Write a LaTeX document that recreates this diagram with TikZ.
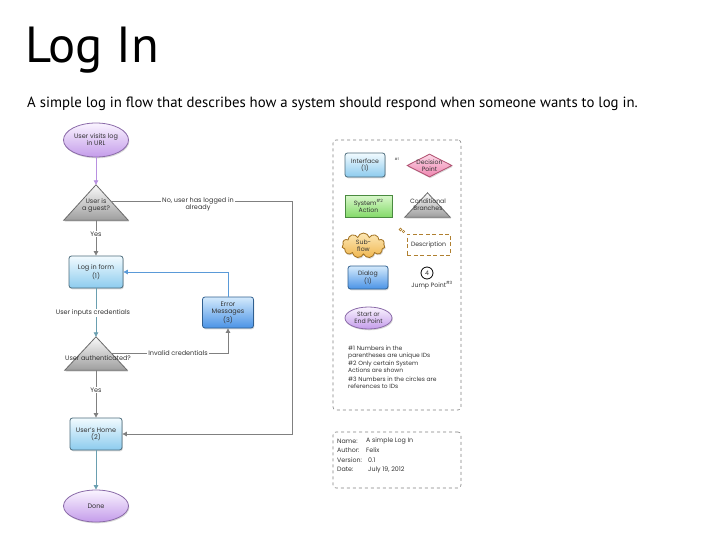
\documentclass[tikz,border=0pt]{standalone}
\usepackage{fontspec}
\setmainfont{Poppins}
\newfontfamily\titlefont{PT Sans}
\usetikzlibrary{shapes.geometric,shapes.symbols,arrows.meta,shadows,calc,backgrounds}
\definecolor{lnGray}{HTML}{808080}
\definecolor{lnBlue}{HTML}{5A9AD8}
\definecolor{lnTeal}{HTML}{6A9FB0}
\definecolor{lnPurple}{HTML}{B890E0}
\definecolor{purTop}{HTML}{FAF4FF}
\definecolor{purBot}{HTML}{C49CEA}
\definecolor{purBd}{HTML}{8A6AA8}
\definecolor{lbTop}{HTML}{F2FBFF}
\definecolor{lbBot}{HTML}{8CCBEE}
\definecolor{lbBd}{HTML}{4C6C7C}
\definecolor{dbTop}{HTML}{D4EAFC}
\definecolor{dbBot}{HTML}{4A93E6}
\definecolor{dbBd}{HTML}{2F5F90}
\definecolor{trTop}{HTML}{FAFAFA}
\definecolor{trBot}{HTML}{9E9E9E}
\definecolor{trBd}{HTML}{6A6A6A}
\definecolor{pkTop}{HTML}{FCD6E6}
\definecolor{pkBot}{HTML}{EE86B0}
\definecolor{pkBd}{HTML}{B05070}
\definecolor{grTop}{HTML}{DAF8CC}
\definecolor{grBot}{HTML}{84DA6A}
\definecolor{grBd}{HTML}{4A8A40}
\definecolor{orTop}{HTML}{FDE8B6}
\definecolor{orBot}{HTML}{EFB650}
\definecolor{orBd}{HTML}{A07020}
\definecolor{descBd}{HTML}{B08030}
\definecolor{txt}{HTML}{333333}
\tikzset{
  base/.style={font=\fontsize{6.5}{7}\selectfont, text=txt, align=center, inner sep=0pt},
  leg/.style={font=\fontsize{6.2}{6.8}\selectfont},
  shad/.style={drop shadow={shadow xshift=0.8pt,shadow yshift=-1.3pt,opacity=0.3}},
  ifbox/.style={base, shad, draw=lbBd, line width=0.8pt, rounded corners=2.5pt, top color=lbTop, bottom color=lbBot},
  dlgbox/.style={base, shad, draw=dbBd, line width=0.8pt, rounded corners=2.5pt, top color=dbTop, bottom color=dbBot},
  startend/.style={base, shad, ellipse, draw=purBd, line width=0.8pt, top color=purTop, bottom color=purBot},
  trishape/.style={shad, draw=trBd, line width=0.8pt, top color=trTop, bottom color=trBot},
  trinode/.style={inner sep=0pt},
  lbl/.style={base, fill=white, inner sep=1pt},
  note/.style={base, font=\fontsize{6}{7.2}\selectfont, align=left, anchor=north west},
  info/.style={base, font=\fontsize{6.3}{7}\selectfont, anchor=west},
  gline/.style={draw=lnGray, line width=0.8pt},
  arr/.style={-{Triangle[length=4.5pt,width=4.5pt]}},
  frame/.style={draw=lnGray, dashed, line width=0.6pt, rounded corners=3pt, inner sep=0pt}
}
\begin{document}
\begin{tikzpicture}[x=1pt,y=-1pt]
\useasboundingbox (0,0) rectangle (728,546);
% titles
\node[anchor=base west, inner sep=0pt, font=\titlefont\fontsize{50.7}{50}\selectfont] (title) at (25,62) {Log In};
\node[anchor=base west, inner sep=0pt, font=\titlefont\fontsize{14.8}{15}\selectfont] (subtitle) at (27,107) {A simple log in flow that describes how a system should respond when someone wants to log in.};

% flow nodes
\node[startend, minimum width=65pt, minimum height=34pt] (start) at (96,140) {User visits log\\in URL};
\node[trinode, minimum width=64pt, minimum height=35pt] (guest) at (96,202.5) {};
\node[ifbox, minimum width=54pt, minimum height=32pt] (login) at (96,272) {Log in form\\(1)};
\node[trinode, minimum width=62pt, minimum height=33pt] (auth) at (96,353.5) {};
\node[dlgbox, minimum width=51pt, minimum height=31pt] (err) at (228,312.5) {Error\\Messages\\(3)};
\node[ifbox, minimum width=52pt, minimum height=32pt] (home) at (96,434) {User's Home\\(2)};
\node[startend, minimum width=65pt, minimum height=32pt] (done) at (96,506) {Done};

\begin{scope}[on background layer]
  \path[trishape] (guest.north) -- (guest.south east) -- (guest.south west) -- cycle;
  \path[trishape] (auth.north) -- (auth.south east) -- (auth.south west) -- cycle;
\end{scope}
\node[base] (guesttxt) at (96,205) {User is\\a guest?};
\node[base] (authtxt) at (98,358) {User authenticated?};

\coordinate (gR) at ($(guest.north)!0.457!(guest.south east)$);
\coordinate (aR) at ($(auth.north)!0.485!(auth.south east)$);
\coordinate (rx) at (292,0);

% connectors
\draw[draw=lnPurple, line width=0.8pt, arr] (start) -- (guest.north);
\draw[gline, arr] (gR) -- (gR -| rx) |- (home.east);
\node[lbl] (nolbl) at (198,204) {No, user has logged in\\already};
\draw[gline, arr] (guest.south) -- (login.north);
\node[lbl] (yes1) at (96,234) {Yes};
\draw[draw=lnTeal, line width=0.8pt, arr] (login.south) -- (auth.north);
\node[lbl] (inlbl) at (93,313) {User inputs credentials};
\draw[gline, arr] (aR) -- (aR -| err.south) -- (err.south);
\node[lbl] (invlbl) at (178,353) {Invalid credentials};
\draw[draw=lnBlue, line width=0.8pt, arr] (err.north) |- (login.east);
\draw[gline, arr] (auth.south) -- (home.north);
\node[lbl] (yes2) at (96,390) {Yes};
\draw[draw=lnTeal, line width=0.8pt, arr] (home.south) -- (done.north);

% legend
\node[frame, minimum width=128pt, minimum height=270pt] (legend) at (397,275) {};
\node[ifbox, leg, minimum width=40pt, minimum height=24pt] (iface) at (365,165) {Interface\\(1)};
\node[base, font=\fontsize{3.5}{4}\selectfont] (n1) at (397,159) {\#1};
\node[base, shad, diamond, aspect=2, draw=pkBd, line width=0.8pt, top color=pkTop, bottom color=pkBot, minimum width=45pt, minimum height=23pt] (decis) at (429.5,165.5) {};
\node[base, leg] (decistxt) at (429.5,166) {Decision\\Point};
\node[base, leg, shad, draw=grBd, line width=0.8pt, top color=grTop, bottom color=grBot, minimum width=47pt, minimum height=22pt] (sys) at (368.5,206) {System\textsuperscript{\#2}\\Action};
\node[trinode, minimum width=45pt, minimum height=24pt] (cond) at (427.5,205) {};
\begin{scope}[on background layer]
  \path[trishape] (cond.north) -- (cond.south east) -- (cond.south west) -- cycle;
\end{scope}
\node[base, leg] (condtxt) at (428,204.5) {Conditional\\Branches};
\node[base, leg, shad, cloud, cloud puffs=11, aspect=2, draw=orBd, line width=0.8pt, top color=orTop, bottom color=orBot, minimum width=43pt, minimum height=25pt] (sub) at (363.5,245.5) {Sub-\\flow};
\node[base, leg, draw=descBd, line width=1pt, dash pattern=on 4pt off 2.5pt, minimum width=43pt, minimum height=21pt] (desc) at (428.5,244.5) {Description};
\draw[descBd, line width=0.6pt] (400.5,229.5) circle (1.4pt) (403.5,231.5) circle (1.2pt);
\node[dlgbox, leg, minimum width=40pt, minimum height=23pt] (dlg) at (368,277.5) {Dialog\\(1)};
\node[base, leg, circle, draw=black, line width=0.8pt, minimum size=12pt] (jump) at (427,273) {4};
\node[base, leg] (jumptxt) at (432,285) {Jump Point\textsuperscript{\#3}};
\node[startend, leg, minimum width=47pt, minimum height=22pt] (se) at (368.5,318) {Start or\\End Point};
\node[note] (note1) at (348,345.5) {\#1 Numbers in the\\parentheses are unique IDs};
\node[note] (note2) at (348,361) {\#2 Only certain System\\Actions are shown};
\node[note] (note3) at (348,376.5) {\#3 Numbers in the circles are\\references to IDs};

% info box
\node[frame, minimum width=128pt, minimum height=56pt] (info) at (397,460) {};
\node[info] (inf1) at (337,441) {Name:};
\node[info] (inf1v) at (366,441) {A simple Log In};
\node[info] (inf2) at (337,450.5) {Author:};
\node[info] (inf2v) at (366,450.5) {Felix};
\node[info] (inf3) at (337,460) {Version:};
\node[info] (inf3v) at (368,460) {0.1};
\node[info] (inf4) at (337,469.5) {Date:};
\node[info] (inf4v) at (368,469.5) {July 19, 2012};
\end{tikzpicture}
\end{document}
